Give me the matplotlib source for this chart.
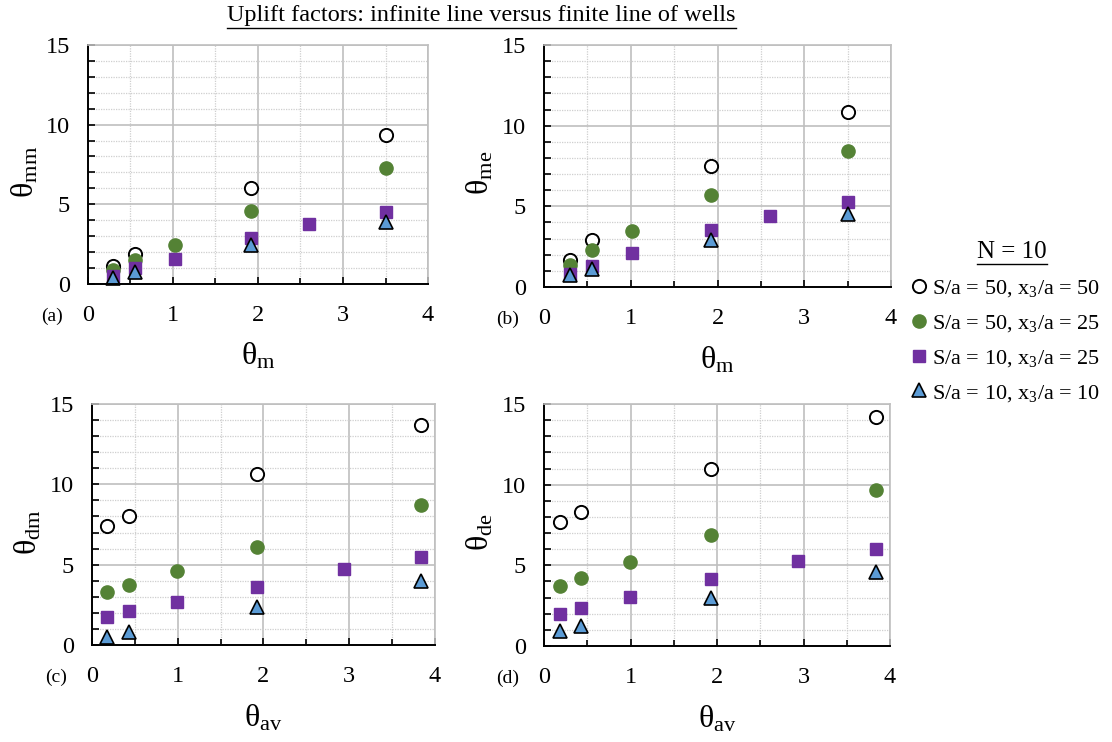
import matplotlib
matplotlib.use("Agg")
import matplotlib.pyplot as plt
from matplotlib.lines import Line2D
from matplotlib.ticker import MultipleLocator

plt.rcParams['font.family'] = ['Liberation Serif', 'DejaVu Serif']
plt.rcParams['mathtext.fontset'] = 'custom'
plt.rcParams['mathtext.rm'] = 'Liberation Serif'
plt.rcParams['mathtext.it'] = 'Liberation Serif:italic'

# x positions (theta_m for a/b, theta_av for c/d)
xm_s50_x50 = [0.30, 0.55, 1.92, 3.50]
xm_s50_x25 = [0.30, 0.55, 1.02, 1.92, 3.50]
xm_s10_x25 = [0.30, 0.55, 1.02, 1.92, 2.60, 3.50]
xm_s10_x10 = [0.30, 0.55, 1.92, 3.50]

xav_s50_x50 = [0.18, 0.43, 1.93, 3.84]
xav_s50_x25 = [0.18, 0.43, 0.99, 1.93, 3.84]
xav_s10_x25 = [0.18, 0.43, 0.99, 1.93, 2.94, 3.84]
xav_s10_x10 = [0.18, 0.43, 1.93, 3.84]

# (a) theta_mm
mm_s50_x50 = [1.10, 1.90, 6.00, 9.35]
mm_s50_x25 = [0.90, 1.50, 2.45, 4.58, 7.26]
mm_s10_x25 = [0.50, 0.98, 1.55, 2.87, 3.74, 4.54]
mm_s10_x10 = [0.36, 0.73, 2.45, 3.87]

# (b) theta_me
me_s50_x50 = [1.69, 2.93, 7.47, 10.87]
me_s50_x25 = [1.34, 2.31, 3.45, 5.71, 8.40]
me_s10_x25 = [0.83, 1.32, 2.10, 3.55, 4.41, 5.26]
me_s10_x10 = [0.72, 1.11, 2.93, 4.52]

# (c) theta_dm
dm_s50_x50 = [7.42, 8.00, 10.62, 13.71]
dm_s50_x25 = [3.30, 3.74, 4.61, 6.13, 8.73]
dm_s10_x25 = [1.77, 2.12, 2.66, 3.64, 4.76, 5.46]
dm_s10_x10 = [0.52, 0.79, 2.39, 3.97]

# (d) theta_de
de_s50_x50 = [7.70, 8.30, 11.00, 14.19]
de_s50_x25 = [3.72, 4.24, 5.19, 6.87, 9.64]
de_s10_x25 = [2.00, 2.38, 3.02, 4.14, 5.28, 6.04]
de_s10_x10 = [0.93, 1.24, 2.98, 4.59]

labels = [r"S/a = 50, $\mathregular{x_3}$/a = 50",
          r"S/a = 50, $\mathregular{x_3}$/a = 25",
          r"S/a = 10, $\mathregular{x_3}$/a = 25",
          r"S/a = 10, $\mathregular{x_3}$/a = 10"]

green = '#548235'
purple = '#7030A0'
blue = '#5B9BD5'

fig = plt.figure(figsize=(11.12, 7.42), dpi=100)

panels = [
    ([0.0791, 0.6173, 0.3058, 0.3221], 'a', 'mm', 'm',
     [xm_s50_x50, xm_s50_x25, xm_s10_x25, xm_s10_x10],
     [mm_s50_x50, mm_s50_x25, mm_s10_x25, mm_s10_x10]),
    ([0.4892, 0.6132, 0.3121, 0.3262], 'b', 'me', 'm',
     [xm_s50_x50, xm_s50_x25, xm_s10_x25, xm_s10_x10],
     [me_s50_x50, me_s50_x25, me_s10_x25, me_s10_x10]),
    ([0.0827, 0.1307, 0.3085, 0.3248], 'c', 'dm', 'av',
     [xav_s50_x50, xav_s50_x25, xav_s10_x25, xav_s10_x10],
     [dm_s50_x50, dm_s50_x25, dm_s10_x25, dm_s10_x10]),
    ([0.4892, 0.1294, 0.3112, 0.3261], 'd', 'de', 'av',
     [xav_s50_x50, xav_s50_x25, xav_s10_x25, xav_s10_x10],
     [de_s50_x50, de_s50_x25, de_s10_x25, de_s10_x10]),
]

handles = None
for rect, tag, ysub, xsub, xs, ys in panels:
    ax = fig.add_axes(rect)
    ax.set_xlim(0, 4)
    ax.set_ylim(0, 15)
    ax.xaxis.set_major_locator(MultipleLocator(1))
    ax.xaxis.set_minor_locator(MultipleLocator(0.5))
    ax.yaxis.set_major_locator(MultipleLocator(5))
    ax.yaxis.set_minor_locator(MultipleLocator(1))
    ax.grid(True, which='major', color='#bfbfbf', lw=1.2)
    ax.grid(True, which='minor', color='#cfcfcf', lw=0.9, ls=(0, (1, 1)))
    ax.set_axisbelow(True)
    for s in ['top', 'right']:
        ax.spines[s].set_color('#bfbfbf')
        ax.spines[s].set_linewidth(1.2)
    for s in ['left', 'bottom']:
        ax.spines[s].set_color('black')
        ax.spines[s].set_linewidth(1.4)
    ax.tick_params(which='both', direction='in', length=5, width=1.2,
                   labelsize=17.5)
    ax.tick_params(axis='x', which='major', pad=15)
    ax.tick_params(axis='y', which='major', pad=13)
    ax.tick_params(axis='y', which='minor', length=5)
    ax.tick_params(axis='x', which='minor', length=4)

    h1, = ax.plot(xs[0], ys[0], 'o', ms=9.5, mfc='white', mec='black', mew=1.4, clip_on=False)
    h2, = ax.plot(xs[1], ys[1], 'o', ms=9.5, mfc=green, mec=green, clip_on=False)
    h3, = ax.plot(xs[2], ys[2], 's', ms=9, mfc=purple, mec=purple, clip_on=False)
    h4, = ax.plot(xs[3], ys[3], '^', ms=9.5, mfc=blue, mec='black', mew=1.2, clip_on=False)
    handles = [h1, h2, h3, h4]

    ax.set_ylabel('θ$_\\mathregular{' + ysub + '}$', fontsize=23)
    ax.yaxis.set_label_coords(-0.14, 0.47)
    ax.set_xlabel('θ$_\\mathregular{' + xsub + '}$', fontsize=23)
    ax.xaxis.set_label_coords(0.5, -0.24)
    ax.text(-0.105, -0.135, '(' + tag + ')', transform=ax.transAxes,
            fontsize=14, ha='center', va='center')

title = fig.text(0.433, 0.979, 'Uplift factors: infinite line versus finite line of wells',
                 ha='center', va='center', fontsize=17.5)
ntext = fig.text(0.910, 0.661, 'N = 10', ha='center', va='center', fontsize=18)

fig.legend(handles, labels, loc='upper left', bbox_to_anchor=(0.818, 0.625),
           frameon=False, fontsize=16, handlelength=0.8, handletextpad=0.2,
           labelspacing=0.62, borderaxespad=0, borderpad=0)

# underline title and legend heading
fig.canvas.draw()
inv = fig.transFigure.inverted()
for t in [title, ntext]:
    bb = t.get_window_extent().transformed(inv)
    fig.add_artist(Line2D([bb.x0, bb.x1], [bb.y0 - 0.002, bb.y0 - 0.002],
                          transform=fig.transFigure, color='black', lw=1))

fig.savefig('out.png', dpi=100)
